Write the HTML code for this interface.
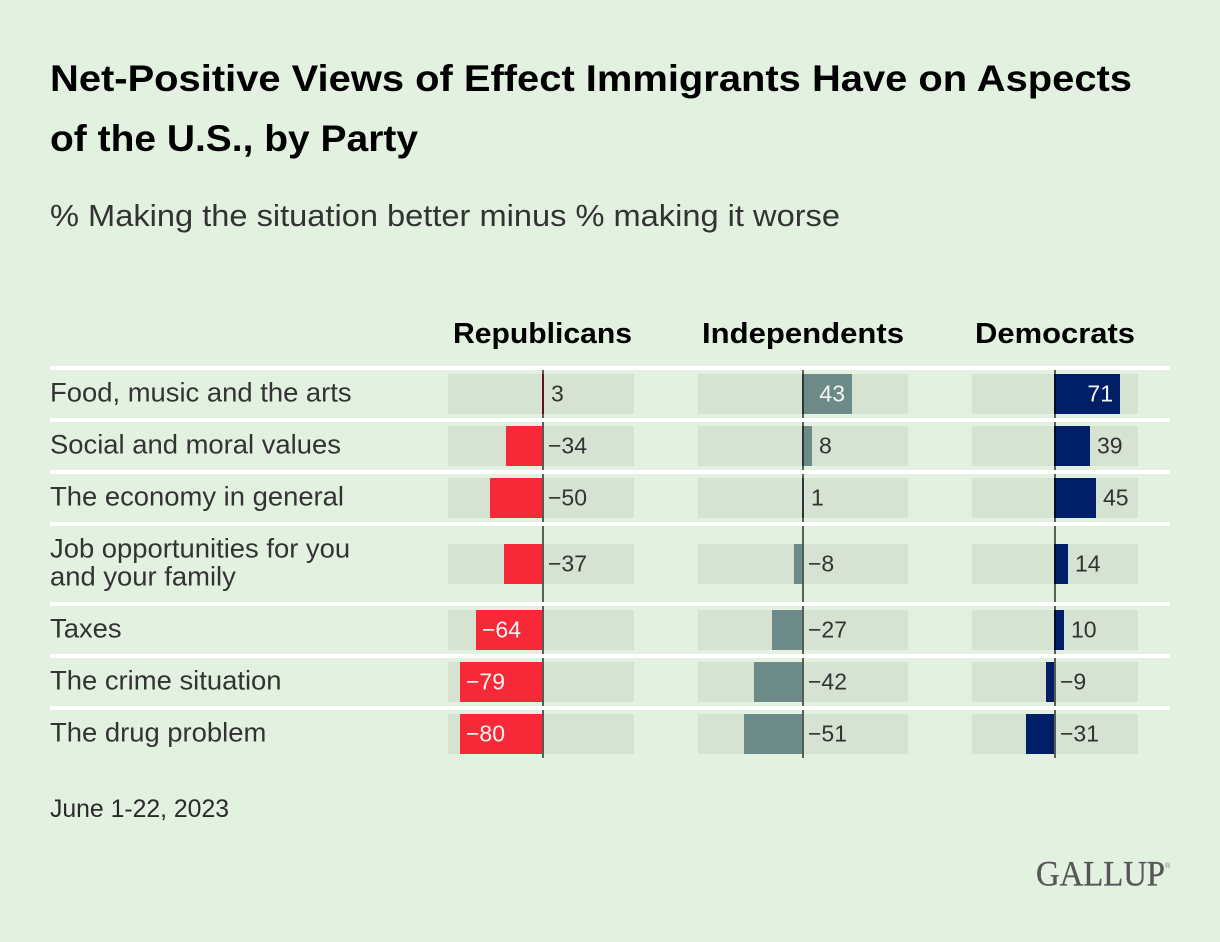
<!DOCTYPE html>
<html lang="en">
<head>
<meta charset="utf-8">
<title>Net-Positive Views of Effect Immigrants Have on Aspects of the U.S., by Party</title>
<style>
  html, body { margin: 0; padding: 0; background: #e3f1e1; }
  #chart { display: block; width: 1220px; height: 942px; font-family: "Liberation Sans", sans-serif; }
</style>
</head>
<body>
<svg id="chart" xmlns="http://www.w3.org/2000/svg" width="1220" height="942" viewBox="0 0 1220 942">
  <rect x="0" y="0" width="1220" height="942" fill="#e3f1e1"/>
  <text x="50" y="91" font-size="37" font-weight="700" fill="#000" textLength="1082" lengthAdjust="spacingAndGlyphs">Net-Positive Views of Effect Immigrants Have on Aspects</text>
  <text x="50" y="151" font-size="37" font-weight="700" fill="#000" textLength="368" lengthAdjust="spacingAndGlyphs">of the U.S., by Party</text>
  <text x="50" y="226" font-size="31" fill="#333" textLength="790" lengthAdjust="spacingAndGlyphs">% Making the situation better minus % making it worse</text>
  <text x="453" y="343" font-size="29" font-weight="700" fill="#000" textLength="179" lengthAdjust="spacingAndGlyphs">Republicans</text>
  <text x="702" y="343" font-size="29" font-weight="700" fill="#000" textLength="202" lengthAdjust="spacingAndGlyphs">Independents</text>
  <text x="975" y="343" font-size="29" font-weight="700" fill="#000" textLength="160" lengthAdjust="spacingAndGlyphs">Democrats</text>
  <g id="plot"></g>
  <text x="50" y="817" font-size="25" fill="#2a2a2a" textLength="179" lengthAdjust="spacingAndGlyphs">June 1-22, 2023</text>
  <text x="1036" y="885.5" font-family="'Liberation Serif', serif" font-size="36" fill="#575757" stroke="#575757" stroke-width="0.35" textLength="129" lengthAdjust="spacingAndGlyphs">GALLUP</text>
  <text x="1165" y="868" font-size="7" fill="#777">®</text>
</svg>
<script>
// Chart data
const categories = [
  ["Food, music and the arts"],
  ["Social and moral values"],
  ["The economy in general"],
  ["Job opportunities for you", "and your family"],
  ["Taxes"],
  ["The crime situation"],
  ["The drug problem"]
];
const republicans = [3, -34, -50, -37, -64, -79, -80];
const independents = [43, 8, 1, -8, -27, -42, -51];
const democrats = [71, 39, 45, 14, 10, -9, -31];

// Axis functions, one per panel
const snap = function (px) { return Math.round(px / 2) * 2; };
const xRep = function (v) { return 541.8 + v * 1.03; };
const xInd = function (v) { return 803 + v * 1.15; };
const xDem = function (v) { return 1055 + v * 0.92; };

const panels = [
  { key: "republicans", values: republicans, x: xRep, left: 448, right: 634, color: "#f72838" },
  { key: "independents", values: independents, x: xInd, left: 698, right: 908, color: "#6b8a88" },
  { key: "democrats", values: democrats, x: xDem, left: 972, right: 1138, color: "#001f66" }
];

const NS = "http://www.w3.org/2000/svg";
const plot = document.getElementById("plot");

function make(tag, props) {
  const el = document.createElementNS(NS, tag);
  Object.keys(props).forEach(function (k) { el.setAttribute(k, props[k]); });
  plot.appendChild(el);
  return el;
}

function widen(el, factor) {
  el.setAttribute("textLength", el.getComputedTextLength() * factor);
  el.setAttribute("lengthAdjust", "spacingAndGlyphs");
}

const ONE_LINE = 48, LINE_STEP = 28, RULE = 4, TRACK = 40;
let rowTop = 366;

categories.forEach(function (lines, r) {
  const bandTop = rowTop + RULE;
  const bandH = ONE_LINE + (lines.length - 1) * LINE_STEP;
  const mid = bandTop + bandH / 2;

  const rule = make("rect", { x: 50, y: rowTop, width: 1120, height: RULE, fill: "#ffffff" });
  
  

  lines.forEach(function (line, i) {
    const t = make("text", {
      x: 50,
      y: mid + 7.5 + (i - (lines.length - 1) / 2) * LINE_STEP,
      "font-size": 27,
      fill: "#333333"
    });
    t.textContent = line;
    
    
    widen(t, 1.015);
  });

  panels.forEach(function (p) {
    const v = p.values[r];
    const axisX = snap(p.x(0) - 0.5);
    const end = snap(p.x(v));
    const barLeft = v >= 0 ? axisX : end;
    const barW = v >= 0 ? end - axisX : axisX - end;

    const track = make("rect", { x: p.left, y: mid - TRACK / 2, width: p.right - p.left, height: TRACK, fill: "#d6e2d2" });
    
    

    const bar = make("rect", { x: barLeft, y: mid - TRACK / 2, width: Math.max(barW, 0), height: TRACK, fill: p.color });
    
    

    const axis = make("rect", { x: axisX, y: bandTop, width: 2, height: bandH, fill: "#000000", "fill-opacity": 0.6 });
    
    

    const inside = v >= 0 ? barW >= 48 : barW >= 62;
    let lx, anchor = "start";
    if (v >= 0) {
      if (inside) { lx = end - 7; anchor = "end"; } else { lx = end + 7; }
    } else {
      lx = inside ? end + 6 : axisX + 6;
    }
    const label = make("text", {
      x: lx,
      y: mid + 7.5,
      "font-size": 23,
      "text-anchor": anchor,
      fill: inside ? "#f4f8f3" : "#333333"
    });
    label.textContent = (v < 0 ? "\u2212" : "") + Math.abs(v);
    
    
  });

  rowTop = bandTop + bandH;
});
</script>
</body>
</html>
